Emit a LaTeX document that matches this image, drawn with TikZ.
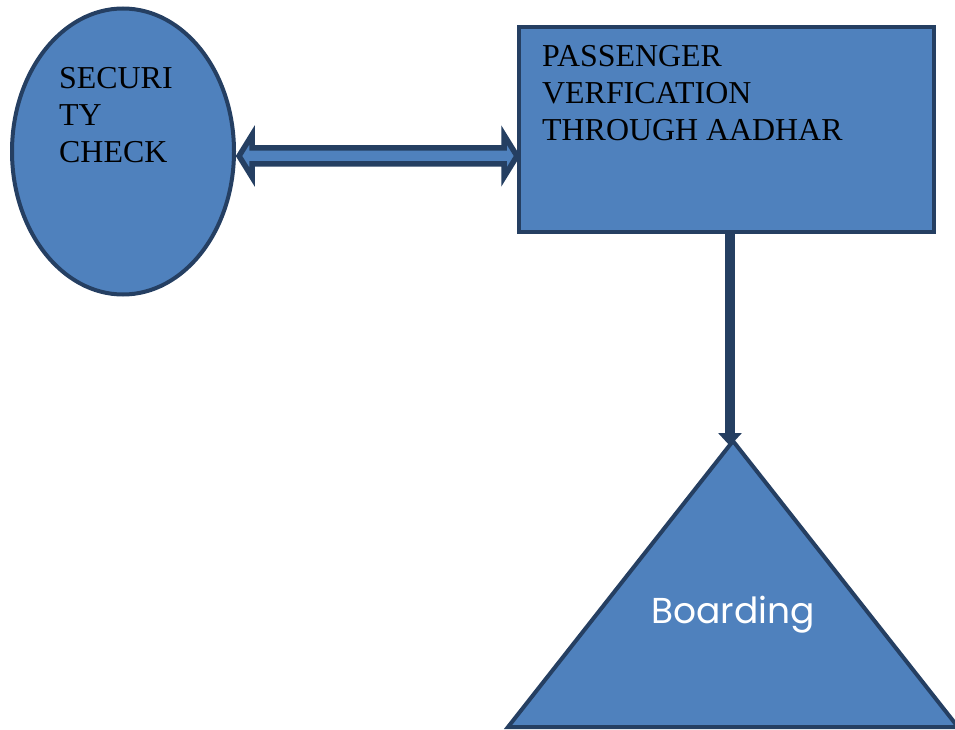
\documentclass[tikz,border=0pt]{standalone}
\usepackage{fontspec}
\setmainfont{Liberation Serif}
\newfontfamily\boardfont{Poppins}
\usetikzlibrary{shapes.geometric,arrows.meta,calc}
\definecolor{fillblue}{HTML}{4F81BD}
\definecolor{edgeblue}{HTML}{253F62}
\tikzset{
  shapebox/.style={draw=edgeblue,fill=fillblue,line width=4pt},
  labeltext/.style={inner sep=0pt,align=left,font=\fontsize{31.9}{37}\selectfont,text=black},
}
\begin{document}
\begin{tikzpicture}[x=1pt,y=-1pt]
\useasboundingbox (0,0) rectangle (955,730);
\clip (0,0) rectangle (955,730);
% security check ellipse
\node[shapebox,ellipse,minimum width=222pt,minimum height=286pt,inner sep=0pt] (sec) at (123,151.5) {};
\node[labeltext,anchor=north west] (seclabel) at (59,67) {SECURI\\TY\\CHECK};
% passenger verification rectangle
\node[shapebox,rectangle,minimum width=415pt,minimum height=205pt,inner sep=0pt] (pv) at (726.5,129.5) {};
\node[labeltext,anchor=north west] (pvlabel) at (542,45.5) {PASSENGER\\VERFICATION\\THROUGH AADHAR};
% boarding triangle
\coordinate (apex) at (733,441);
\coordinate (bl) at (508,727);
\coordinate (br) at (958,727);
\draw[shapebox,line join=miter] (apex) -- (bl) -- (br) -- cycle;
\node[inner sep=0pt,anchor=base,text=white,font=\boardfont\fontsize{36}{40}\selectfont] (board) at (733,623) {Boarding};
% double block arrow between ellipse and rectangle
\coordinate (L) at ($(sec.east)+(3,4.5)$);
\coordinate (R) at (L -| pv.west);
\draw[draw=edgeblue,fill=fillblue,line width=5.5pt]
  (L) -- ($(L)+(13,-21)$) -- ($(L)+(13,-8)$) -- ($(R)+(-13,-8)$) -- ($(R)+(-13,-21)$)
  -- (R) -- ($(R)+(-13,21)$) -- ($(R)+(-13,8)$) -- ($(L)+(13,8)$) -- ($(L)+(13,21)$) -- cycle;
% arrow from rectangle to triangle
\coordinate (tgt) at (730,446);
\draw[edgeblue,line width=10pt,-{Triangle[length=13pt,width=23pt]}] (pv.south -| tgt) -- (tgt);
\end{tikzpicture}
\end{document}
